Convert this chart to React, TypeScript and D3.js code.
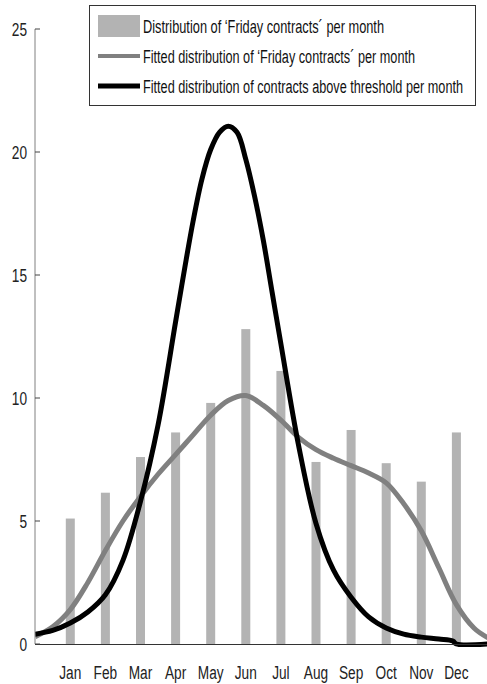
import React, { useLayoutEffect, useRef, useState } from 'react';
import * as d3 from 'd3';

const months = ['Jan', 'Feb', 'Mar', 'Apr', 'May', 'Jun', 'Jul', 'Aug', 'Sep', 'Oct', 'Nov', 'Dec'];
const fridayCounts = [5.1, 6.15, 7.6, 8.6, 9.8, 12.8, 11.1, 7.4, 8.7, 7.35, 6.6, 8.6];

// fitted curves, sampled by month position (0 = left edge, 1 = Jan, ...)
const fittedFriday: [number, number][] = [
  [0, 0.3], [0.5, 0.7], [1, 1.4], [1.5, 2.5], [2, 3.8], [2.5, 5.0], [3, 6.0], [3.5, 6.9],
  [4, 7.7], [4.5, 8.5], [5, 9.3], [5.5, 9.9], [6, 10.1], [6.5, 9.7], [7, 9.1], [7.5, 8.4],
  [8, 7.9], [8.5, 7.55], [9, 7.25], [9.5, 6.95], [10, 6.55], [10.5, 5.7], [11, 4.6],
  [11.5, 3.1], [12, 1.6], [12.5, 0.65], [12.9, 0.25],
];
const fittedAbove: [number, number][] = [
  [0, 0.4], [0.5, 0.55], [1, 0.85], [1.5, 1.3], [2, 2.0], [2.5, 3.4], [3, 5.8], [3.5, 8.9],
  [4, 13.1], [4.25, 15.2], [4.5, 17.2], [4.75, 18.9], [5, 20.1], [5.25, 20.8], [5.5, 21.05],
  [5.75, 20.8], [6, 19.7], [6.25, 18.2], [6.5, 16.4], [6.75, 14.3], [7, 12.2],
  [7.5, 8.1], [8, 4.9], [8.5, 3.0], [9, 1.9], [9.5, 1.1], [10, 0.65], [10.5, 0.4],
  [11, 0.28], [11.5, 0.2], [11.9, 0.12], [12, 0], [12.9, 0],
];
const yTicks = [0, 5, 10, 15, 20, 25];
const legendLabels = [
  'Distribution of \u2018Friday contracts\u00b4 per month',
  'Fitted distribution of \u2018Friday contracts\u00b4 per month',
  'Fitted distribution of contracts above threshold per month',
];

const W = 487;
const H = 684;
const font = '"Liberation Sans", Arial, sans-serif';
const sx = 0.72;

export default function App() {
  const x = d3.scaleLinear().domain([0, 13]).range([35.2, 35.2 + 13 * 35.1]);
  const y = d3.scaleLinear().domain([0, 25]).range([644, 29]);

  const line = d3
    .line<[number, number]>()
    .x(d => x(d[0]))
    .y(d => y(d[1]))
    .curve(d3.curveCatmullRom.alpha(0.5));

  // legend text widths in the reference, squeezed to fit
  const legendWidths = [241, 272, 320];
  const textRefs = useRef<(SVGTextElement | null)[]>([]);
  const [scales, setScales] = useState([sx, sx, sx]);

  useLayoutEffect(() => {
    const s = textRefs.current.map((el, i) => {
      if (!el) return sx;
      const w = el.getComputedTextLength();
      return w > 0 ? legendWidths[i] / w : sx;
    });
    setScales(s);
  }, []);

  return (
    <svg width={W} height={H} style={{ position: 'absolute', left: 0, top: 0 }}>
      <rect width={W} height={H} fill="#fff" />
      <defs>
        <clipPath id="plot">
          <rect x={35} y={0} width={W - 35} height={647} />
        </clipPath>
      </defs>

      {/* bars */}
      {fridayCounts.map((v, i) => (
        <rect
          key={months[i]}
          x={x(i + 1) - 4.5}
          y={y(v)}
          width={9}
          height={y(0) - y(v)}
          fill="#b3b3b3"
        />
      ))}

      <g clipPath="url(#plot)">
        <path d={line(fittedFriday) || ''} fill="none" stroke="#808080" strokeWidth={5} />
        <path d={line(fittedAbove) || ''} fill="none" stroke="#000" strokeWidth={5} />
      </g>

      {/* axes */}
      <line x1={35} x2={35} y1={y(25)} y2={y(0)} stroke="#808080" strokeWidth={1} />
      <line x1={35} x2={W} y1={y(0) + 0.5} y2={y(0) + 0.5} stroke="#333" strokeWidth={1} />
      {yTicks.map(t => (
        <g key={t}>
          <line x1={35} x2={40} y1={y(t)} y2={y(t)} stroke="#444" strokeWidth={1} />
          <text
            transform={`translate(27,${y(t) + 7}) scale(${sx},1)`}
            textAnchor="end"
            fontFamily={font}
            fontSize={19}
            fill="#222"
          >
            {t}
          </text>
        </g>
      ))}
      {months.map((m, i) => (
        <text
          key={m}
          transform={`translate(${x(i + 1)},${679}) scale(${sx},1)`}
          textAnchor="middle"
          fontFamily={font}
          fontSize={19}
          fill="#222"
        >
          {m}
        </text>
      ))}

      {/* legend */}
      <rect x={89.5} y={5.5} width={386} height={100} fill="#fff" stroke="#333" strokeWidth={1} />
      <rect x={98} y={15} width={42} height={22} fill="#b3b3b3" />
      <line x1={98} x2={140} y1={56} y2={56} stroke="#808080" strokeWidth={4} />
      <line x1={98} x2={140} y1={86} y2={86} stroke="#000" strokeWidth={5} />
      {legendLabels.map((l, i) => (
        <text
          key={l}
          ref={el => {
            textRefs.current[i] = el;
          }}
          transform={`translate(143,${33 + i * 30}) scale(${scales[i]},1)`}
          fontFamily={font}
          fontSize={18}
          fill="#111"
        >
          {l}
        </text>
      ))}
    </svg>
  );
}
